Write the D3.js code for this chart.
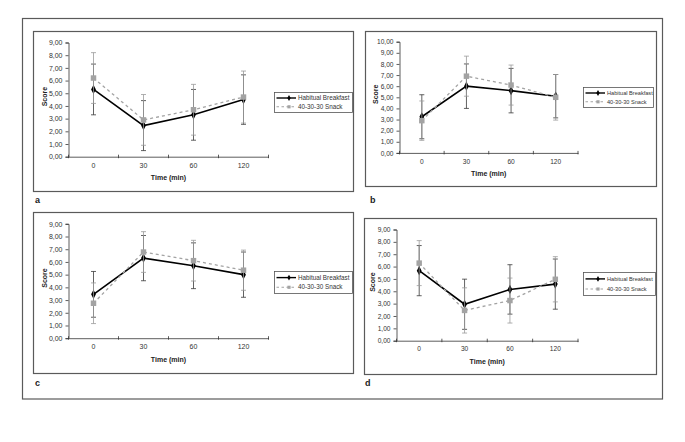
<!DOCTYPE html>
<html><head><meta charset="utf-8">
<script src="https://cdn.jsdelivr.net/npm/d3@7"></script>
<style>
html,body{margin:0;padding:0;background:#fff;}
svg{display:block;font-family:"Liberation Sans",Arial,sans-serif;}
</style></head>
<body>
<svg id="chart" width="685" height="442"></svg>
<script>
// ---- data ----
const timeLabels = ["0", "30", "60", "120"];
const seriesNames = ["Habitual Breakfast", "40-30-30 Snack"];
const panelNames = ["a", "b", "c", "d"];
const yMaxes = [9, 10, 9, 9];

const aHabitual = [5.30, 2.45, 3.30, 4.50];
const aHabitualErr = [2.00, 1.97, 2.00, 1.95];
const aSnack = [6.20, 2.90, 3.70, 4.70];
const aSnackErr = [2.00, 2.00, 2.00, 2.05];

const bHabitual = [3.25, 6.00, 5.60, 5.10];
const bHabitualErr = [1.98, 2.00, 2.00, 1.95];
const bSnack = [2.90, 6.90, 6.10, 5.00];
const bSnackErr = [1.77, 1.80, 1.80, 2.05];

const cHabitual = [3.45, 6.30, 5.70, 5.00];
const cHabitualErr = [1.80, 1.78, 1.80, 1.78];
const cSnack = [2.75, 6.78, 6.10, 5.35];
const cSnackErr = [1.60, 1.60, 1.60, 1.58];

const dHabitual = [5.67, 2.95, 4.15, 4.58];
const dHabitualErr = [2.03, 2.03, 2.00, 2.03];
const dSnack = [6.28, 2.45, 3.25, 4.97];
const dSnackErr = [1.82, 1.83, 1.82, 1.83];

const panelData = [
  [aHabitual, aHabitualErr, aSnack, aSnackErr],
  [bHabitual, bHabitualErr, bSnack, bSnackErr],
  [cHabitual, cHabitualErr, cSnack, cSnackErr],
  [dHabitual, dHabitualErr, dSnack, dSnackErr]
];

// ---- layout (pixels) ----
const layout = [
  {box:[33,31,353,191], px:[68.5,268.5], py:[156.7,42.5], lab:[35,202.5], leg:[274,92,352,112], lf:6.3, tf:7},
  {box:[365,31,656,186], px:[399.5,578], py:[152.9,41.7], lab:[370,203], leg:[583,87,653,107], lf:5.6, tf:6.6},
  {box:[33,212,353,373], px:[68.5,268.5], py:[338.2,223.8], lab:[35,386], leg:[274,271,352,293], lf:6.3, tf:7},
  {box:[364,218,656,374], px:[396.5,578], py:[340.7,229.5], lab:[365,385.5], leg:[583,272,655,295], lf:5.6, tf:6.6}
];

const svg = d3.select("#chart");
const frameCol = "#5a5a5a";
const blackCol = "#000";
const grayCol = "#a3a3a3";
const fmt = v => d3.format(".2f")(v).replace(".", ",");

// outer frame
svg.append("rect").attr("x",22.5).attr("y",18.5).attr("width",640).attr("height",380.5)
  .attr("fill","none").attr("stroke",frameCol).attr("stroke-width",1.2);

const diamond = d3.symbol().type(d3.symbolDiamond).size(20);
const square = d3.symbol().type(d3.symbolSquare).size(30);

layout.forEach((L, pi) => {
  const g = svg.append("g");
  const [bx0,by0,bx1,by1] = L.box;
  g.append("rect").attr("x",bx0+0.5).attr("y",by0+0.5).attr("width",bx1-bx0).attr("height",by1-by0)
    .attr("fill","none").attr("stroke",frameCol).attr("stroke-width",1.2);

  g.append("text").attr("x",L.lab[0]).attr("y",L.lab[1]).text(panelNames[pi])
    .attr("font-size",9).attr("font-weight","bold").attr("fill","#222");

  const x = d3.scaleBand().domain(timeLabels).range(L.px).paddingInner(0).paddingOuter(0);
  const y = d3.scaleLinear().domain([0, yMaxes[pi]]).range(L.py);

  // y axis
  const yAxis = d3.axisLeft(y).tickValues(d3.range(0, yMaxes[pi]+0.001, 1))
    .tickFormat(fmt).tickSize(3).tickPadding(3);
  const ya = g.append("g").attr("transform",`translate(${L.px[0]},0)`).call(yAxis);
  ya.select(".domain").attr("stroke","#333").attr("stroke-width",0.8);
  ya.selectAll(".tick line").attr("stroke","#333").attr("stroke-width",0.8);
  ya.selectAll("text").attr("font-size",L.tf).attr("fill","#333").attr("font-family","Liberation Sans, Arial, sans-serif");

  // x axis
  const xAxis = d3.axisBottom(x).tickSize(0).tickPadding(6);
  const xa = g.append("g").attr("transform",`translate(0,${L.py[0]})`).call(xAxis);
  xa.select(".domain").attr("stroke","#333").attr("stroke-width",0.8);
  xa.selectAll("text").attr("font-size",L.tf).attr("fill","#333").attr("font-family","Liberation Sans, Arial, sans-serif");
  // boundary ticks
  const bounds = timeLabels.map(t => x(t)).concat([x(timeLabels[timeLabels.length-1]) + x.bandwidth()]);
  g.selectAll(".bt").data(bounds).enter().append("line")
    .attr("x1",d=>d).attr("x2",d=>d).attr("y1",L.py[0]-2).attr("y2",L.py[0]+1.5)
    .attr("stroke","#333").attr("stroke-width",0.8);

  // axis titles
  const cx = (L.px[0]+L.px[1])/2;
  g.append("text").attr("x",cx).attr("y",L.py[0]+23.5).attr("text-anchor","middle")
    .attr("font-size",7).attr("font-weight","bold").attr("fill","#222").text("Time (min)");
  const cy = (L.py[0]+L.py[1])/2 - 3;
  g.append("text").attr("transform",`translate(${L.px[0]-22},${cy}) rotate(-90)`).attr("text-anchor","middle")
    .attr("font-size",7).attr("font-weight","bold").attr("fill","#222").text("Score");

  const [hv, he, sv, se] = panelData[pi];
  const xc = t => x(t) + x.bandwidth()/2;

  function errBars(vals, errs, col) {
    const gg = g.append("g");
    timeLabels.forEach((t, i) => {
      const X = xc(t), lo = y(vals[i]-errs[i]), hi = y(vals[i]+errs[i]);
      gg.append("line").attr("x1",X).attr("x2",X).attr("y1",lo).attr("y2",hi).attr("stroke",col).attr("stroke-width",0.8);
      [lo,hi].forEach(yy => gg.append("line").attr("x1",X-2.5).attr("x2",X+2.5).attr("y1",yy).attr("y2",yy)
        .attr("stroke",col).attr("stroke-width",0.8));
    });
  }
  const line = d3.line().x((d,i)=>xc(timeLabels[i])).y(d=>y(d));

  // habitual
  errBars(hv, he, "#3a3a3a");
  g.append("path").datum(hv).attr("d",line).attr("fill","none").attr("stroke",blackCol).attr("stroke-width",1.6);
  g.selectAll(".hm").data(hv).enter().append("path").attr("d",diamond)
    .attr("transform",(d,i)=>`translate(${xc(timeLabels[i])},${y(d)}) scale(1,1.1)`).attr("fill",blackCol);

  // snack
  errBars(sv, se, "#9a9a9a");
  g.append("path").datum(sv).attr("d",line).attr("fill","none").attr("stroke",grayCol).attr("stroke-width",1.3)
    .attr("stroke-dasharray","3,3");
  g.selectAll(".sm").data(sv).enter().append("path").attr("d",square)
    .attr("transform",(d,i)=>`translate(${xc(timeLabels[i])},${y(d)})`).attr("fill",grayCol);

  // legend
  const [lx0,ly0,lx1,ly1] = L.leg;
  g.append("rect").attr("x",lx0+0.5).attr("y",ly0+0.5).attr("width",lx1-lx0).attr("height",ly1-ly0)
    .attr("fill","#fff").attr("stroke","#555").attr("stroke-width",0.8);
  const r1 = ly0 + (ly1-ly0)*0.3, r2 = ly0 + (ly1-ly0)*0.74;
  g.append("line").attr("x1",lx0+2.5).attr("x2",lx0+22).attr("y1",r1).attr("y2",r1).attr("stroke",blackCol).attr("stroke-width",1.4);
  g.append("path").attr("d",d3.symbol().type(d3.symbolDiamond).size(10)).attr("transform",`translate(${lx0+15},${r1})`).attr("fill",blackCol);
  g.append("line").attr("x1",lx0+2.5).attr("x2",lx0+22).attr("y1",r2).attr("y2",r2).attr("stroke",grayCol).attr("stroke-width",1.1).attr("stroke-dasharray","2.5,2.5");
  g.append("path").attr("d",d3.symbol().type(d3.symbolSquare).size(10)).attr("transform",`translate(${lx0+15},${r2})`).attr("fill",grayCol);
  [seriesNames[0], seriesNames[1]].forEach((s, i) => {
    g.append("text").attr("x",lx0+24).attr("y",i===0?r1:r2).attr("dy","0.35em")
      .attr("font-size",L.lf).attr("fill","#333").text(s);
  });
});
</script>
</body></html>
